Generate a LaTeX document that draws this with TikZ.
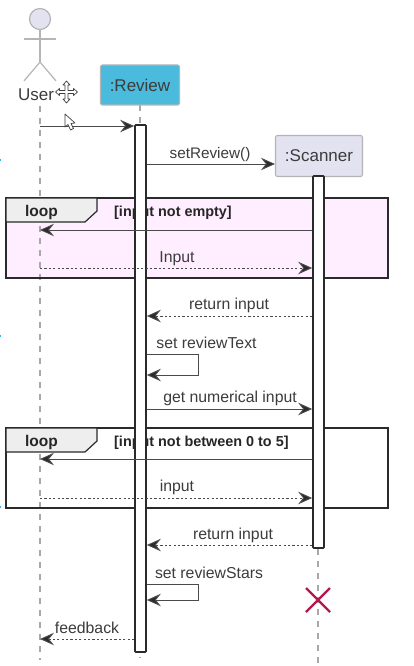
\documentclass[tikz,border=0pt]{standalone}
\usepackage{fontspec}
\setmainfont{Liberation Sans}
\usetikzlibrary{arrows.meta,positioning}
\definecolor{txt}{HTML}{3C3C3C}
\definecolor{actorfill}{HTML}{E2E2F0}
\definecolor{actorline}{HTML}{B5B5B8}
\definecolor{revfill}{HTML}{4ABADD}
\definecolor{pinkbg}{HTML}{FFEEFF}
\definecolor{tabbg}{HTML}{EEEEEE}
\definecolor{framec}{HTML}{2A2A2A}
\definecolor{linec}{HTML}{4A4A4A}
\definecolor{lifec}{HTML}{A8A8A8}
\definecolor{crossc}{HTML}{B5174F}
\definecolor{edgeblue}{HTML}{35B0EE}
\tikzset{
  x=1pt,y=-1pt,
  lbl/.style={font=\fontsize{15.8}{18}\selectfont,text=txt,inner sep=0pt,anchor=base},
  guard/.style={font=\bfseries\fontsize{14.4}{16}\selectfont,text=black!85,inner sep=0pt,anchor=base west},
  looptxt/.style={font=\bfseries\fontsize{15.5}{18}\selectfont,text=black!85,inner sep=0pt,anchor=base},
  lifeline/.style={draw=lifec,line width=1.1pt,dash pattern=on 6pt off 6pt},
  part/.style={draw=actorline,line width=1.1pt,rounded corners=2pt,inner sep=0pt,font=\fontsize{17}{20}\selectfont,text=txt},
  activation/.style={draw=framec,fill=white,line width=1.7pt,rounded corners=0.8pt,inner sep=0pt,minimum width=11pt},
  msg/.style={draw=linec,line width=0.95pt,-{Stealth[length=14pt,width=12.5pt,inset=5pt,fill=framec]}},
  reply/.style={msg,dash pattern=on 2.2pt off 2.2pt},
  frame/.style={draw=framec,line width=1.6pt},
  tabshape/.style={draw=framec,line width=1.2pt,fill=tabbg},
  limb/.style={draw=actorline,line width=1.2pt},
  cursorshape/.style={draw=black!75,fill=white,line width=0.7pt,line join=round}
}
\begin{document}
\begin{tikzpicture}
\useasboundingbox (0,0) rectangle (414,666);
\fill[white] (0,0) rectangle (414,666);

% edge marks at the left border
\fill[edgeblue] (0,159) rectangle (1,161);
\fill[edgeblue] (0,335) rectangle (1,337);
\fill[edgeblue] (0,506) rectangle (1,508);

% loop backgrounds
\fill[pinkbg] (6,198) rectangle (388,278);

% lifeline ends
\coordinate (uTop) at (40,106);
\coordinate (uBot) at (40,660);
\coordinate (rTop) at (140,105);
\coordinate (rBot) at (140,658);
\coordinate (sTop) at (318,177);
\coordinate (sBot) at (318,664);
\draw[lifeline] (uTop) -- (uBot);
\draw[lifeline] (rTop) -- (rBot);
\draw[lifeline] (sTop) -- (sBot);

% actor
\node[circle,draw=actorline,fill=actorfill,line width=1.2pt,minimum size=21pt,inner sep=0pt] (head) at (40,19) {};
\coordinate (hip) at (40,62);
\coordinate (armL) at (24,39);
\coordinate (armR) at (56,39);
\coordinate (footL) at (24,81);
\coordinate (footR) at (56,81);
\draw[limb] (head.south) -- (hip);
\draw[limb] (armL) -- (armR);
\draw[limb] (footL) -- (hip) -- (footR);
\node[font=\fontsize{17}{20}\selectfont,text=txt,inner sep=0pt,anchor=base] (userlbl) at (36,101) {User};

% participants
\node[part,fill=revfill,minimum width=79pt,minimum height=40pt] (review) at (140,85) {:Review};
\node[part,fill=actorfill,minimum width=87pt,minimum height=41pt] (scanner) at (319,156) {:Scanner};

% loop frames (below the activations)
\draw[frame] (6,198) rectangle (388,278);
\draw[tabshape] (6,198) -- (97,198) -- (97,211) -- (85,222) -- (6,222) -- cycle;
\node[looptxt] (loopa) at (41.5,216) {loop};
\node[guard] (guarda) at (114,216) {[input not empty]};

\draw[frame] (6,428) rectangle (388,508);
\draw[tabshape] (6,428) -- (97,428) -- (97,441) -- (85,452) -- (6,452) -- cycle;
\node[looptxt] (loopb) at (41.5,446) {loop};
\node[guard] (guardb) at (114,446) {[input not between 0 to 5]};

% activations
\node[activation,minimum height=527pt] (ra) at (140.5,388.5) {};
\node[activation,minimum height=372pt] (sa) at (318.5,362) {};

% anchors on the lifelines
\coordinate (u1) at (40,126);
\coordinate (u2) at (40,230);
\coordinate (u3) at (40,268);
\coordinate (u4) at (40,459);
\coordinate (u5) at (40,498);
\coordinate (u6) at (40,639);

% messages
\draw[msg] (u1) -- (u1 -| ra.west);
\draw[msg] (ra.east |- 164,164) -- (scanner.west |- 164,164);
\draw[msg] (sa.west |- 230,230) -- (u2);
\draw[reply] (u3) -- (sa.west |- 268,268);
\draw[reply] (sa.west |- 316,316) -- (ra.east |- 316,316);
\draw[msg] (ra.east |- 354,354) -- (198,354) -- (198,375) -- (ra.east |- 375,375);
\draw[msg] (ra.east |- 409,409) -- (sa.west |- 409,409);
\draw[msg] (sa.west |- 459,459) -- (u4);
\draw[reply] (u5) -- (sa.west |- 498,498);
\draw[reply] (sa.west |- 545,545) -- (ra.east |- 545,545);
\draw[msg] (ra.east |- 584,584) -- (198,584) -- (198,600) -- (ra.east |- 600,600);
\draw[reply] (ra.west |- 639,639) -- (u6);

% message labels
\node[lbl,font=\fontsize{15.3}{18}\selectfont] (l1) at (210,158) {setReview()};
\node[lbl] (l2) at (177,262) {Input};
\node[lbl] (l3) at (229,309) {return input};
\node[lbl] (l4) at (206.5,348) {set reviewText};
\node[lbl] (l5) at (230,402) {get numerical input};
\node[lbl] (l6) at (177,491) {input};
\node[lbl] (l7) at (233,539) {return input};
\node[lbl] (l8) at (209,578) {set reviewStars};
\node[lbl] (l9) at (87,633) {feedback};

% destruction mark
\coordinate (xa) at (306,588);
\coordinate (xb) at (330,612);
\coordinate (xc) at (306,612);
\coordinate (xd) at (330,588);
\draw[crossc,line width=2.2pt] (xa) -- (xb);
\draw[crossc,line width=2.2pt] (xc) -- (xd);

% mouse cursors
\draw[cursorshape] (65,114) -- (65,127) -- (68,124.5) -- (70.5,130) -- (73.5,128.5) -- (71,123.5) -- (75,123) -- cycle;
\draw[cursorshape] (66.5,81) -- (70,85) -- (68,85) -- (68,90.5) -- (73.5,90.5) -- (73.5,88.5) -- (77.5,92) -- (73.5,95.5) -- (73.5,93.5) -- (68,93.5) -- (68,99) -- (70,99) -- (66.5,103) -- (63,99) -- (65,99) -- (65,93.5) -- (59.5,93.5) -- (59.5,95.5) -- (55.5,92) -- (59.5,88.5) -- (59.5,90.5) -- (65,90.5) -- (65,85) -- (63,85) -- cycle;
\end{tikzpicture}
\end{document}
